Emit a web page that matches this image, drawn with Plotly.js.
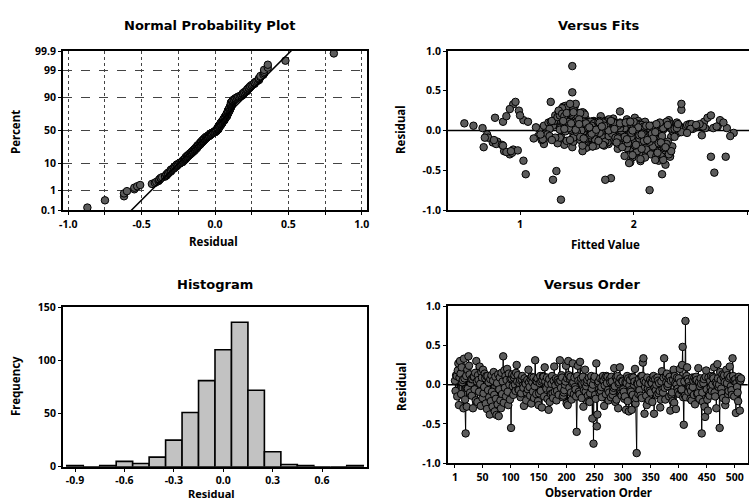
<!DOCTYPE html>
<html>
<head>
<meta charset="utf-8">
<script src="https://cdn.plot.ly/plotly-3.0.1.min.js"></script>
<style>html,body{margin:0;padding:0;background:#fff;}#chart{width:749px;height:503px;}</style>
</head>
<body>
<div id="chart"></div>
<script>
// ---------- data ----------
// residuals in observation order (1..511)
const residuals = [
0.05,-0.08,0.12,0.11,-0.15,0.18,0.27,-0.26,0.09,0.3,
0.14,-0.12,0.22,0.03,0.06,-0.3,0.33,0.08,-0.19,-0.62,
0.11,-0.28,0.19,-0.05,0.36,0.24,0.13,-0.1,0.02,0.07,
-0.14,0.07,-0.3,0.1,0.1,-0.06,0.15,-0.2,0.3,0.04,
-0.22,0.12,0.06,-0.09,0.23,0.01,-0.27,0.16,0.09,-0.17,
0.19,-0.11,-0.03,0.14,0.08,-0.24,0.11,-0.31,0.11,-0.07,
0.03,-0.16,-0.38,0.07,-0.21,0.12,-0.09,-0.28,0.05,0.16,
-0.13,-0.34,0.1,-0.18,-0.385,0.02,-0.25,0.13,-0.4,-0.06,
0.09,-0.2,-0.3,0.15,-0.12,0.04,0.36,-0.23,0.18,-0.04,
0.11,-0.15,0.06,0.2,-0.09,-0.26,0.14,0.0,-0.19,0.07,
-0.55,0.08,0.13,-0.02,-0.13,0.09,0.12,0.0,-0.08,0.15,
0.25,0.04,0.12,-0.06,-0.07,0.02,0.06,-0.16,-0.11,0.07,
0.11,-0.01,-0.04,-0.27,0.08,0.03,0.01,-0.2,-0.1,0.06,
-0.06,0.19,0.03,-0.03,-0.14,0.07,-0.24,0.1,0.03,-0.09,
0.09,-0.17,-0.02,0.31,0.05,-0.12,0.04,0.08,-0.21,-0.26,
-0.11,0.02,0.11,-0.08,0.04,-0.29,0.06,0.11,0.1,-0.15,
0.22,0.04,-0.03,-0.05,0.09,-0.18,0.01,-0.32,0.07,-0.22,
-0.07,-0.12,0.01,0.11,-0.11,-0.17,0.05,0.23,-0.09,-0.01,
0.08,-0.2,-0.08,0.06,0.03,-0.13,0.02,0.31,0.05,-0.04,
0.12,0.09,-0.16,-0.14,-0.1,-0.07,0.0,0.04,0.24,-0.24,
0.08,-0.26,0.3,0.12,-0.04,0.07,0.1,-0.1,-0.19,0.02,
0.27,0.03,-0.12,0.09,-0.03,-0.06,-0.15,-0.6,0.11,0.24,
0.05,-0.09,-0.12,0.29,0.04,0.08,-0.17,0.01,0.1,-0.28,
-0.07,0.02,0.19,-0.09,-0.02,0.03,0.06,-0.14,-0.21,0.09,
-0.22,-0.11,0.03,0.11,-0.05,-0.43,0.0,-0.75,0.07,0.1,
-0.13,-0.18,0.27,-0.53,-0.38,0.02,0.04,-0.06,-0.1,0.08,
-0.08,-0.03,-0.16,0.06,0.11,0.05,-0.27,-0.01,0.09,-0.12,
0.11,0.02,0.1,-0.07,-0.2,-0.1,0.07,0.03,-0.16,0.1,
0.04,-0.13,-0.08,-0.04,0.21,-0.02,-0.22,0.09,-0.19,0.06,
0.11,-0.3,0.01,0.03,0.22,0.08,-0.11,-0.14,0.05,0.04,
-0.06,-0.09,-0.18,-0.15,0.03,-0.32,0.02,0.11,-0.21,0.08,
-0.34,-0.01,0.06,-0.07,-0.09,-0.32,0.1,-0.13,0.09,0.0,
0.04,0.2,-0.24,-0.17,-0.87,0.02,0.01,-0.12,0.07,-0.07,
0.02,-0.14,0.11,-0.17,0.11,0.28,0.335,0.05,-0.37,-0.03,
0.03,-0.14,-0.26,0.09,-0.05,0.01,-0.2,-0.08,0.06,-0.1,
0.03,0.02,-0.22,0.08,0.11,-0.37,-0.04,0.07,-0.07,0.0,
-0.13,0.09,0.05,-0.11,0.02,-0.08,-0.29,-0.19,0.04,0.17,
-0.06,-0.1,0.09,0.335,-0.04,-0.19,0.11,0.03,0.14,-0.02,
0.01,0.08,-0.15,0.1,-0.33,0.05,-0.13,-0.1,-0.21,0.06,
0.19,-0.23,0.11,0.02,-0.31,0.0,0.09,-0.05,-0.09,0.08,
-0.12,0.2,0.03,-0.07,-0.06,0.25,0.48,-0.16,-0.51,0.04,
-0.14,0.81,-0.16,0.11,0.22,0.07,-0.09,0.04,-0.02,-0.04,
-0.18,-0.08,-0.2,0.09,-0.03,0.05,-0.13,0.09,-0.25,0.06,
0.1,0.06,-0.12,-0.11,0.21,0.03,-0.18,-0.02,0.08,0.01,
-0.62,-0.1,-0.22,0.02,0.07,-0.28,-0.41,0.1,0.18,-0.06,
-0.19,-0.33,0.09,-0.12,-0.14,0.05,-0.04,0.11,-0.08,0.0,
0.1,0.08,0.22,-0.1,-0.15,0.03,-0.3,0.01,0.26,0.08,
-0.03,0.0,-0.55,0.16,0.06,-0.05,-0.11,0.13,-0.17,0.09,
0.12,0.03,-0.26,-0.2,0.19,0.02,0.12,-0.12,-0.08,0.08,
0.23,0.1,-0.02,-0.07,-0.13,0.335,0.11,0.05,-0.15,0.04,
0.07,-0.36,0.02,-0.03,-0.1,-0.21,0.1,0.06,-0.33,0.05,
0.08
];
// fitted values, same observation order
const fittedValues = [
1.62,1.85,1.48,1.33,0.76,1.71,1.42,0.86,2.05,1.38,
1.94,2.21,1.56,2.48,1.29,0.91,0.94,1.77,2.12,1.29,
1.68,2.02,1.45,0.71,1.27,1.88,2.31,1.6,1.17,1.99,
0.8,1.74,2.18,1.51,1.36,2.6,1.82,1.9,1.41,2.26,
2.03,1.65,1.21,1.97,1.55,2.39,0.88,0.78,1.79,0.79,
1.31,2.14,1.7,1.58,2.29,0.94,1.63,2.08,0.85,1.16,
2.45,1.92,1.03,1.39,2.2,1.75,0.72,0.93,1.53,2.01,
1.67,1.99,1.25,0.84,2.06,1.83,0.98,1.49,1.97,2.35,
1.72,2.27,2.11,1.4,0.77,2.55,0.96,1.86,0.88,1.22,
1.95,1.34,2.16,1.57,0.69,2.22,1.78,2.42,0.85,1.58,
1.05,1.88,1.03,2.09,1.62,0.51,1.3,1.81,2.33,1.52,
0.99,1.69,2.04,1.47,1.93,1.26,0.59,1.76,2.18,1.37,
2.62,1.83,1.59,2.01,1.84,1.35,2.26,1.64,1.12,1.91,
1.5,1.0,2.12,1.73,2.3,1.43,1.96,2.1,0.67,1.56,
2.07,1.21,1.8,1.42,2.24,1.66,1.89,2.49,0.68,2.03,
1.33,1.72,1.58,1.98,1.46,2.15,1.61,1.27,2.38,1.87,
1.52,1.14,2.21,1.74,2.02,1.39,1.83,1.92,1.55,2.28,
1.68,1.31,2.47,1.07,2.09,1.78,2.56,1.44,1.23,1.94,
1.6,2.19,1.36,1.81,2.14,1.57,2.33,1.4,1.71,2.05,
1.28,1.93,2.25,1.63,1.51,2.17,1.86,2.41,1.34,2.11,
1.75,0.92,1.48,1.7,1.96,1.69,1.43,2.23,1.58,2.0,
0.91,2.63,1.82,2.29,1.53,2.08,1.77,1.8,1.65,1.45,
2.36,1.9,1.19,1.41,2.04,1.62,2.2,1.35,1.88,2.27,
1.72,2.44,1.5,1.99,1.97,1.67,2.13,1.84,1.46,2.31,
1.97,1.59,2.7,1.76,1.24,2.28,1.86,2.14,1.55,1.38,
2.06,1.73,1.47,2.71,2.22,1.92,2.17,1.64,2.02,1.79,
1.52,2.39,1.33,1.85,2.1,1.7,2.3,1.56,1.95,2.18,
1.42,2.52,1.81,1.26,1.61,1.62,2.07,1.74,1.99,1.49,
2.24,1.66,2.12,1.9,1.39,2.35,1.58,1.83,2.01,2.4,
1.63,2.15,1.44,2.26,1.53,1.97,1.2,1.75,2.19,1.48,
1.88,1.35,2.04,1.69,1.57,2.32,1.84,1.62,1.93,2.21,
2.1,1.4,2.58,1.78,1.31,2.2,1.54,1.99,1.78,1.73,
2.37,1.45,2.3,1.87,1.36,2.03,1.66,1.28,1.91,2.14,
1.6,1.47,1.57,2.25,1.82,1.37,1.49,2.09,2.26,1.7,
2.4,1.95,1.55,2.0,1.18,1.77,2.17,1.86,1.64,2.05,
1.43,2.34,1.94,1.72,1.56,2.19,1.81,2.47,1.5,1.89,
2.12,1.65,2.53,1.66,1.39,1.98,2.24,1.74,2.0,1.33,
2.16,1.6,1.85,1.44,2.08,1.67,2.29,1.92,1.52,2.42,
1.79,2.02,1.58,2.23,2.32,1.71,1.41,2.11,1.9,1.63,
1.35,2.07,1.96,2.36,1.99,1.54,1.83,2.18,1.47,1.76,
2.13,1.4,1.88,2.25,1.62,1.34,1.46,1.95,1.32,2.04,
1.57,1.46,2.22,1.69,1.43,2.3,1.84,1.61,1.5,2.16,
1.73,1.92,2.34,1.58,1.98,2.61,2.09,1.45,2.28,1.86,
1.82,2.11,1.53,1.94,1.37,2.38,2.02,1.66,2.2,1.49,
1.75,1.86,2.27,1.62,2.49,2.21,1.96,1.73,1.39,2.05,
1.55,2.68,1.9,1.44,2.14,2.74,1.63,2.0,2.36,1.78,
1.7,2.51,1.41,2.17,1.85,2.82,2.31,1.67,2.42,1.52,
2.88,1.99,2.25,2.65,1.74,2.07,1.57,2.76,2.29,1.88,
1.38,1.6,2.33,1.64,2.68,2.5,1.8,2.12,1.53,2.58,
1.47,1.93,2.19,2.85,1.69,2.42,1.97,2.73,2.24,1.61,
2.55,2.06,1.83,2.47,1.56,2.28,2.79,2.14,2.81,1.72,
2.39
];
// histogram (bin centres and frequencies as read)
const histBinCenters = [-0.9,-0.8,-0.7,-0.6,-0.5,-0.4,-0.3,-0.2,-0.1,0.0,0.1,0.2,0.3,0.4,0.5,0.6,0.7,0.8];
const histCounts     = [1,0,1,5,3,9,25,51,81,110,136,72,14,2,1,0,0,1];

// tick labels
const percentTicks = [0.1,1,10,50,90,99,99.9];
const percentTickLabels = ['0.1','1','10','50','90','99','99.9'];
const npResidualTicks = [-1,-0.75,-0.5,-0.25,0,0.25,0.5,0.75,1];
const npResidualLabels = ['-1.0','','-0.5','','0.0','','0.5','','1.0'];
const residTicks = [-1,-0.5,0,0.5,1];
const residTickLabels = ['-1.0','-0.5','0.0','0.5','1.0'];
const fitTicks = [1,2,3];
const fitTickLabels = ['1','2','3'];
const histXTicks = [-0.9,-0.6,-0.3,0,0.3,0.6];
const histXLabels = ['-0.9','-0.6','-0.3','0.0','0.3','0.6'];
const histYTicks = [0,50,100,150];
const orderTicks = [1,50,100,150,200,250,300,350,400,450,500];

// ---------- helpers ----------
function invNorm(p){
  const a=[-3.969683028665376e+01,2.209460984245205e+02,-2.759285104469687e+02,1.383577518672690e+02,-3.066479806614716e+01,2.506628277459239e+00];
  const b=[-5.447609879822406e+01,1.615858368580409e+02,-1.556989798598866e+02,6.680131188771972e+01,-1.328068155288572e+01];
  const c=[-7.784894002430293e-03,-3.223964580411365e-01,-2.400758277161838e+00,-2.549671500695852e+00,4.374664141464968e+00,2.938163982698783e+00];
  const d=[7.784695709041462e-03,3.224671290700398e-01,2.445134137142996e+00,3.754408661907416e+00];
  const pl=0.02425, ph=1-pl; let q,r;
  if(p<pl){q=Math.sqrt(-2*Math.log(p));return (((((c[0]*q+c[1])*q+c[2])*q+c[3])*q+c[4])*q+c[5])/((((d[0]*q+d[1])*q+d[2])*q+d[3])*q+1);}
  if(p<=ph){q=p-0.5;r=q*q;return (((((a[0]*r+a[1])*r+a[2])*r+a[3])*r+a[4])*r+a[5])*q/(((((b[0]*r+b[1])*r+b[2])*r+b[3])*r+b[4])*r+1);}
  q=Math.sqrt(-2*Math.log(1-p));return -(((((c[0]*q+c[1])*q+c[2])*q+c[3])*q+c[4])*q+c[5])/((((d[0]*q+d[1])*q+d[2])*q+d[3])*q+1);
}

const n = residuals.length;
const sortedRes = residuals.slice().sort((u,v)=>u-v);
const probZ = sortedRes.map((v,i)=>invNorm((i+1-0.3)/(n+0.4)));
const mean = residuals.reduce((s,v)=>s+v,0)/n;
const sd = Math.sqrt(residuals.reduce((s,v)=>s+(v-mean)*(v-mean),0)/(n-1));
const zEdge = invNorm(0.999);
const lineZ = [-3.4, 3.4];
const lineX = lineZ.map(z=>mean+sd*z);
const obsOrder = residuals.map((v,i)=>i+1);

const FONT = 'Noto Sans, DejaVu Sans, sans-serif';
const TFONT = 'DejaVu Sans, Noto Sans, sans-serif';
const mk = {size:7.5, color:'#5c5c5c', line:{color:'#000', width:1}};

const traces = [
  {type:'scatter', mode:'markers', x:sortedRes, y:probZ, xaxis:'x', yaxis:'y', marker:mk, hoverinfo:'skip'},
  {type:'scatter', mode:'lines', x:lineX, y:lineZ, xaxis:'x', yaxis:'y', line:{color:'#000', width:1.5}, hoverinfo:'skip'},
  {type:'scatter', mode:'markers', x:fittedValues, y:residuals, xaxis:'x2', yaxis:'y2', marker:mk, hoverinfo:'skip'},
  {type:'bar', x:histBinCenters, y:histCounts, width:0.1, xaxis:'x3', yaxis:'y3',
   marker:{color:'#c2c2c2', line:{color:'#000', width:1.6}}, hoverinfo:'skip'},
  {type:'scatter', mode:'lines+markers', x:obsOrder, y:residuals, xaxis:'x4', yaxis:'y4',
   line:{color:'#000', width:1}, marker:mk, hoverinfo:'skip'}
];

function ax(extra){
  return Object.assign({
    showline:true, mirror:true, linecolor:'#000', linewidth:2,
    ticks:'outside', ticklen:3, tickcolor:'#000', tickwidth:1,
    zeroline:false, showgrid:false, fixedrange:true, tickmode:'array',
    tickfont:{family:FONT, size:10.5, color:'#000', weight:'bold'}
  }, extra);
}

const H = 503, W = 749;
const px = v => v/W, py = v => 1 - v/H;

const layout = {
  width:W, height:H, margin:{l:0,r:0,t:0,b:0},
  paper_bgcolor:'#fff', plot_bgcolor:'#fff', showlegend:false, bargap:0,
  xaxis: ax({domain:[px(63),px(367)], range:[-1.036,1.036], anchor:'y',
    tickvals:npResidualTicks, ticktext:npResidualLabels,
    showgrid:true, griddash:'dot', gridcolor:'#444', gridwidth:1}),
  yaxis: ax({domain:[py(210),py(51)], range:[-zEdge, zEdge], anchor:'x',
    tickvals:percentTicks.map(p=>invNorm(p/100)), ticktext:percentTickLabels,
    showgrid:true, griddash:'dash', gridcolor:'#444', gridwidth:1}),
  xaxis2: ax({domain:[px(448),1], range:[0.366,3.015], anchor:'y2',
    tickvals:fitTicks, ticktext:fitTickLabels}),
  yaxis2: ax({domain:[py(210),py(51)], range:[-1,1], anchor:'x2',
    tickvals:residTicks, ticktext:residTickLabels}),
  xaxis3: ax({domain:[px(63),px(367)], range:[-0.973,0.873], anchor:'y3',
    tickvals:histXTicks, ticktext:histXLabels}),
  yaxis3: ax({domain:[py(466.7),py(307.3)], range:[0,150], anchor:'x3',
    tickvals:histYTicks, ticktext:histYTicks.map(String)}),
  xaxis4: ax({domain:[px(447.7),px(747.7)], range:[-12,523], anchor:'y4',
    tickvals:orderTicks, ticktext:orderTicks.map(String)}),
  yaxis4: ax({domain:[py(463.3),py(306)], range:[-1,1], anchor:'x4',
    tickvals:residTicks, ticktext:residTickLabels}),
  shapes:[
    {type:'line', layer:'below', xref:'x2 domain', x0:0, x1:1, yref:'y2', y0:0, y1:0, line:{color:'#000', width:1.5}},
    {type:'line', layer:'below', xref:'x4 domain', x0:0, x1:1, yref:'y4', y0:0, y1:0, line:{color:'#000', width:1.5}}
  ],
  annotations:[]
};

function label(text, x, y, size, angle, fam){
  layout.annotations.push({text:text, xref:'paper', yref:'paper', x:px(x), y:py(y),
    xanchor:'center', yanchor:'middle', showarrow:false, textangle:angle||0,
    font:{family:fam||FONT, size:size, color:'#000', weight:'bold'}});
}
label('Normal Probability Plot', 210, 26, 13, 0, TFONT);
label('Versus Fits', 598, 26, 13, 0, TFONT);
label('Histogram', 215, 284, 13, 0, TFONT);
label('Versus Order', 592, 284, 13, 0, TFONT);
label('Residual', 213, 242, 11.5);
label('Percent', 15, 132, 11.5, -90);
label('Residual', 401, 130, 11.5, -90);
label('Fitted Value', 605, 244, 11.5);
label('Frequency', 15, 386, 11.5, -90);
label('Residual', 211, 493, 11);
label('Residual', 401, 387, 11.5, -90);
label('Observation Order', 598, 492, 11.5);

Plotly.newPlot('chart', traces, layout, {staticPlot:true, displayModeBar:false}).then(()=>{
  if (residuals.length !== fittedValues.length) throw new Error('length mismatch '+residuals.length+' vs '+fittedValues.length);
});
</script>
</body>
</html>
